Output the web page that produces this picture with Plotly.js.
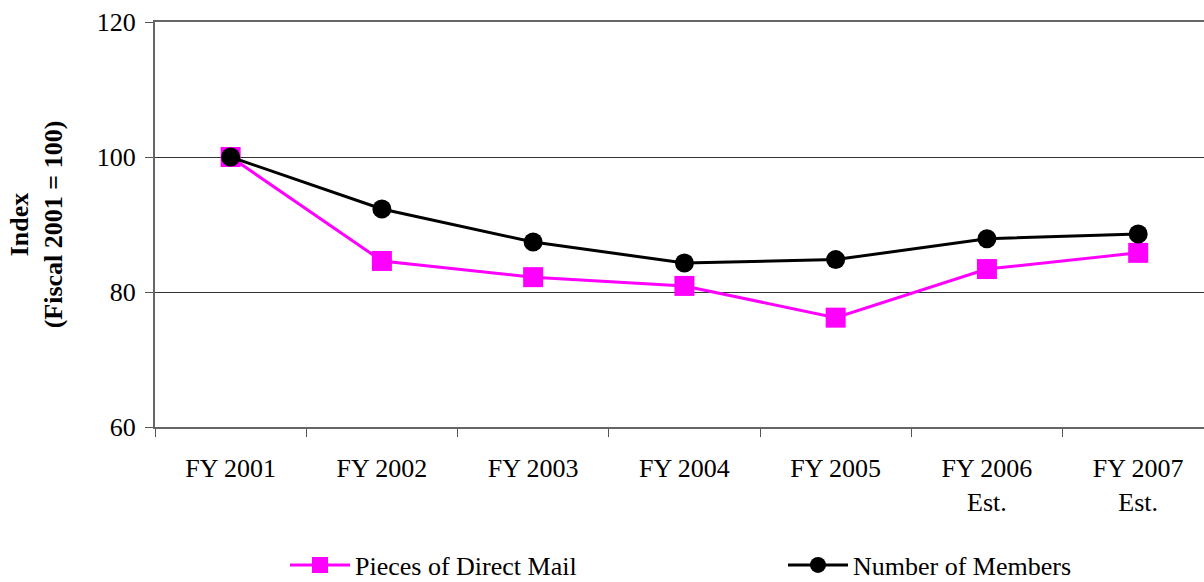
<!DOCTYPE html>
<html>
<head>
<meta charset="utf-8">
<script src="https://cdn.plot.ly/plotly-3.0.1.min.js"></script>
<style>html,body{margin:0;padding:0;background:#fff;}#chart{width:1204px;height:582px;}</style>
</head>
<body>
<div id="chart"></div>
<script>
const categories = ["FY 2001", "FY 2002", "FY 2003", "FY 2004", "FY 2005", "FY 2006<br>Est.", "FY 2007<br>Est."];
const directMail = [100, 84.6, 82.2, 80.9, 76.2, 83.4, 85.8];
const members = [100, 92.3, 87.4, 84.3, 84.8, 87.9, 88.6];
const yTicks = [60, 80, 100, 120];

const F = "Liberation Serif, Times New Roman, serif";
const traces = [
  {x: categories, y: directMail, name: "Pieces of Direct Mail", type: "scatter", mode: "lines+markers",
   line: {color: "#ff00ff", width: 3}, marker: {symbol: "square", size: 20, color: "#ff00ff"}, legend: "legend"},
  {x: categories, y: members, name: "Number of Members", type: "scatter", mode: "lines+markers",
   line: {color: "#000000", width: 3}, marker: {symbol: "circle", size: 19, color: "#000000"}, legend: "legend2"}
];
const legFont = {family: F, size: 26, color: "#000"};
const layout = {
  width: 1204, height: 582,
  margin: {l: 155, r: 0, t: 22, b: 155},
  paper_bgcolor: "#fff", plot_bgcolor: "#fff",
  font: {family: F, size: 26, color: "#000"},
  showlegend: true,
  legend: {orientation: "h", xref: "container", yref: "container", x: 285/1204, xanchor: "left",
           y: 17/582, yanchor: "middle", font: legFont, itemwidth: 60, bgcolor: "rgba(0,0,0,0)"},
  legend2: {orientation: "h", xref: "container", yref: "container", x: 783/1204, xanchor: "left",
           y: 17/582, yanchor: "middle", font: legFont, itemwidth: 60, bgcolor: "rgba(0,0,0,0)"},
  xaxis: {type: "category", range: [-0.5, 6.435], showgrid: false, zeroline: false,
          showline: true, mirror: true, linecolor: "#666", linewidth: 2,
          ticks: "outside", tickson: "boundaries", ticklen: 8, tickcolor: "#555", tickwidth: 1,
          ticklabelstandoff: 17, tickfont: {family: F, size: 26, color: "#000"}},
  yaxis: {range: [60, 120], tickvals: yTicks, ticktext: yTicks.map(String),
          showgrid: true, gridcolor: "#333", gridwidth: 1, zeroline: false,
          showline: true, linecolor: "#666", linewidth: 2,
          ticks: "outside", ticklen: 8, tickcolor: "#555", tickwidth: 1,
          ticklabelstandoff: 4, tickfont: {family: F, size: 26, color: "#000"},
          title: {text: "<b>Index<br>(Fiscal 2001 = 100)</b>", font: {family: F, size: 26, color: "#000"}, standoff: 27}}
};
Plotly.newPlot("chart", traces, layout, {displayModeBar: false, staticPlot: true});
</script>
</body>
</html>
